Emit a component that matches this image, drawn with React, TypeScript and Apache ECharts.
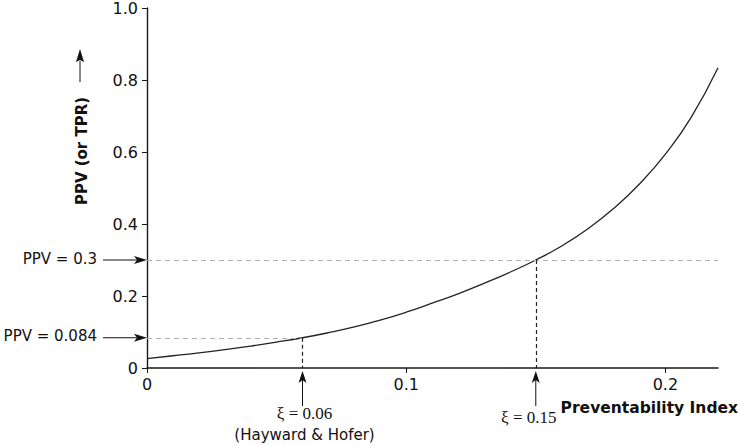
import React, { useEffect, useRef } from "react";
import * as echarts from "echarts";

// Curve: Preventability index (xi) vs PPV
const xiValues = [0, 0.01, 0.02, 0.03, 0.04, 0.05, 0.06, 0.07, 0.08, 0.09, 0.10, 0.11, 0.12, 0.13, 0.14, 0.15, 0.16, 0.17, 0.18, 0.19, 0.20, 0.21, 0.2203];
const ppvValues = [0.026, 0.034, 0.042, 0.051, 0.061, 0.072, 0.084, 0.098, 0.114, 0.133, 0.155, 0.180, 0.206, 0.235, 0.266, 0.300, 0.339, 0.386, 0.443, 0.511, 0.594, 0.697, 0.834];

const X_MAX = 0.2203;
const xTicks = [0, 0.1, 0.2];

// Highlighted operating points
const markXi = [0.06, 0.15];
const markPpv = [0.084, 0.3];
const markXiLabels = ["ξ = 0.06", "ξ = 0.15"];
const markPpvLabels = ["PPV = 0.084", "PPV = 0.3"];
const markSubLabels = ["(Hayward & Hofer)", ""];

const SANS = "DejaVu Sans";
const SERIF = "Liberation Serif";

export default function App() {
  const ref = useRef<HTMLDivElement>(null);

  useEffect(() => {
    document.body.style.margin = "0";
    if (!ref.current) return;
    const chart = echarts.init(ref.current, null, { renderer: "svg" });

    const data = xiValues.map((x, i) => [x, ppvValues[i]]);

    chart.setOption({
      animation: false,
      backgroundColor: "#ffffff",
      grid: { left: 147, right: 22, top: 7, bottom: 77 },
      xAxis: {
        type: "value",
        min: 0,
        max: X_MAX,
        interval: 0.1,
        splitLine: { show: false },
        axisLine: { show: true, lineStyle: { color: "#1a1a1a", width: 1.6 } },
        axisTick: { show: true, length: 5, customValues: xTicks, lineStyle: { color: "#1a1a1a", width: 1 } },
        axisLabel: {
          customValues: xTicks,
          margin: 8,
          color: "#111",
          fontFamily: SANS,
          fontSize: 16,
          formatter: (v: number) => (v === 0 ? "0" : v.toFixed(1)),
        },
      },
      yAxis: {
        type: "value",
        min: 0,
        max: 1,
        interval: 0.2,
        splitLine: { show: false },
        axisLine: { show: true, lineStyle: { color: "#1a1a1a", width: 1.4 } },
        axisTick: { show: true, length: 5, lineStyle: { color: "#1a1a1a", width: 1 } },
        axisLabel: {
          margin: 9,
          color: "#111",
          fontFamily: SANS,
          fontSize: 16,
          formatter: (v: number) => (v === 0 ? "0" : v.toFixed(1)),
        },
      },
      series: [
        {
          type: "line",
          data,
          smooth: true,
          showSymbol: false,
          symbol: "none",
          clip: false,
          lineStyle: { color: "#222", width: 1.3 },
          markLine: {
            silent: true,
            symbol: ["none", "none"],
            label: { show: false },
            data: [
              [
                { coord: [0, markPpv[1]], lineStyle: { color: "#b0b0b0", type: [5, 4], width: 1.2 } },
                { coord: [X_MAX, markPpv[1]] },
              ],
              [
                { coord: [0, markPpv[0]], lineStyle: { color: "#b0b0b0", type: [5, 4], width: 1.2 } },
                { coord: [markXi[0], markPpv[0]] },
              ],
              [
                { coord: [markXi[0], markPpv[0]], lineStyle: { color: "#222", type: [4, 3], width: 1.2 } },
                { coord: [markXi[0], 0] },
              ],
              [
                { coord: [markXi[1], markPpv[1]], lineStyle: { color: "#222", type: [4, 3], width: 1.2 } },
                { coord: [markXi[1], 0] },
              ],
            ],
          },
        },
      ],
    });

    const px = (x: number, y: number) => chart.convertToPixel({ gridIndex: 0 }, [x, y]) as number[];
    const ink = "#111";
    const graphics: any[] = [];

    // y-axis name with upward arrow
    graphics.push({
      type: "text",
      x: 82,
      y: 151,
      rotation: Math.PI / 2,
      style: { text: "PPV (or TPR)", font: `bold 15px ${SANS}`, fill: ink, align: "center", verticalAlign: "middle" },
    });
    graphics.push({ type: "line", shape: { x1: 80, y1: 61, x2: 80, y2: 82 }, style: { stroke: ink, lineWidth: 1 } });
    graphics.push({ type: "polygon", shape: { points: [[80, 49], [76, 62], [80, 60], [84, 62]] }, style: { fill: ink } });

    // x-axis name
    graphics.push({
      type: "text",
      x: 738,
      y: 408,
      style: { text: "Preventability Index", font: `bold 15.5px ${SANS}`, fill: ink, align: "right", verticalAlign: "middle" },
    });

    // PPV labels with arrows pointing at y axis
    markPpv.forEach((v, i) => {
      const p = px(0, v);
      const y = p[1];
      const ax = p[0];
      graphics.push({
        type: "text",
        x: 97,
        y: y - 1.5,
        style: { text: markPpvLabels[i], font: `15px ${SANS}`, fill: ink, align: "right", verticalAlign: "middle" },
      });
      graphics.push({ type: "line", shape: { x1: 103, y1: y, x2: ax - 8, y2: y }, style: { stroke: ink, lineWidth: 1 } });
      graphics.push({
        type: "polygon",
        shape: { points: [[ax, y], [ax - 13, y - 4], [ax - 10, y], [ax - 13, y + 4]] },
        style: { fill: ink },
      });
    });

    // xi labels with upward arrows below x axis
    markXi.forEach((v, i) => {
      const p = px(v, 0);
      const x = p[0];
      const top = p[1] + 3;
      graphics.push({ type: "line", shape: { x1: x, y1: top + 8, x2: x, y2: top + 35 }, style: { stroke: ink, lineWidth: 1 } });
      graphics.push({
        type: "polygon",
        shape: { points: [[x, top], [x - 4, top + 12], [x, top + 9], [x + 4, top + 12]] },
        style: { fill: ink },
      });
      graphics.push({
        type: "text",
        x: i === 0 ? x + 2 : x - 7,
        y: i === 0 ? 413 : 417,
        style: { text: markXiLabels[i], font: `17px ${SERIF}`, fill: ink, align: "center", verticalAlign: "middle" },
      });
      if (markSubLabels[i]) {
        graphics.push({
          type: "text",
          x: x + 2,
          y: 435,
          style: { text: markSubLabels[i], font: `15px ${SANS}`, fill: ink, align: "center", verticalAlign: "middle" },
        });
      }
    });

    chart.setOption({ graphic: graphics });

    return () => chart.dispose();
  }, []);

  return <div ref={ref} style={{ width: 740, height: 445 }} />;
}
